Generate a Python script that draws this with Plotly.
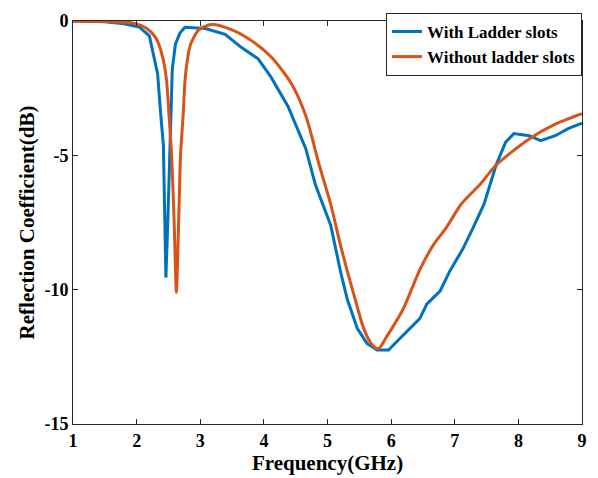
import plotly.graph_objects as go

# With Ladder slots
blue_f = [1.0, 1.5, 1.8, 2.04, 2.2, 2.33, 2.38, 2.42, 2.44, 2.46, 2.49, 2.52, 2.54, 2.56,
          2.61, 2.68, 2.76, 3.08, 3.39, 3.65, 3.91, 4.11, 4.38, 4.53, 4.66, 4.81, 4.92,
          5.05, 5.21, 5.31, 5.47, 5.62, 5.78, 5.96, 6.09, 6.3, 6.45, 6.56, 6.77, 6.92,
          7.13, 7.28, 7.46, 7.65, 7.80, 7.93, 8.17, 8.35, 8.58, 8.79, 8.94, 9.0]
blue_db = [0.0, -0.03, -0.1, -0.22, -0.55, -1.97, -3.5, -4.6, -7.0, -9.55, -7.5, -5.0, -3.2, -1.8,
           -0.86, -0.45, -0.23, -0.28, -0.5, -0.99, -1.41, -2.08, -3.18, -4.0, -4.76, -6.1, -6.8,
           -7.6, -9.38, -10.35, -11.45, -12.0, -12.25, -12.25, -11.93, -11.45, -11.08, -10.54, -10.05, -9.32,
           -8.47, -7.74, -6.82, -5.36, -4.51, -4.19, -4.27, -4.45, -4.27, -4.0, -3.84, -3.8]

# Without ladder slots
or_f = [1.0, 1.5, 1.93, 2.15, 2.30, 2.41, 2.47, 2.51, 2.55, 2.59, 2.625, 2.66, 2.69, 2.73,
        2.77, 2.85, 2.98, 3.18, 3.49, 3.81, 4.12, 4.43, 4.66, 4.87, 5.05, 5.21, 5.42,
        5.57, 5.7, 5.8, 5.93, 6.19, 6.45, 6.66, 6.87, 7.10, 7.41, 7.65, 8.17, 8.58, 9.0]
or_db = [0.0, -0.02, -0.07, -0.26, -0.62, -1.35, -2.2, -3.54, -5.0, -7.5, -10.1, -7.5, -5.0, -3.54,
         -1.96, -0.86, -0.32, -0.13, -0.32, -0.74, -1.35, -2.32, -3.54, -5.36, -6.82, -8.4, -10.23,
         -11.45, -12.05, -12.2, -11.75, -10.72, -9.26, -8.35, -7.68, -6.82, -6.05, -5.36, -4.39, -3.84, -3.45]

x_ticks = [1, 2, 3, 4, 5, 6, 7, 8, 9]
y_ticks = [0, -5, -10, -15]
y_labels = ["0", "-5", "-10", "-15"]

font_family = "Liberation Serif"

fig = go.Figure()
fig.add_trace(go.Scatter(x=blue_f, y=blue_db, mode="lines", name="<b>With Ladder slots</b>",
                         line=dict(color="#0072BD", width=3)))
fig.add_trace(go.Scatter(x=or_f, y=or_db, mode="lines", name="<b>Without ladder slots</b>",
                         line=dict(color="#D95319", width=3, shape="spline", smoothing=0.7)))

fig.update_layout(
    width=598, height=478,
    margin=dict(l=73, r=11, t=13, b=54),
    paper_bgcolor="white", plot_bgcolor="white",
    font=dict(family=font_family, color="black", size=17),
    showlegend=True,
    legend=dict(x=1, y=1.02, xanchor="right", yanchor="top",
                bordercolor="#262626", borderwidth=1, bgcolor="white",
                font=dict(family=font_family, size=17, color="black"),
                tracegroupgap=0),
)
fig.update_xaxes(range=[1, 9], tickvals=x_ticks, ticktext=[f"<b>{v}</b>" for v in x_ticks],
                 showline=True, linecolor="#262626", linewidth=1, mirror="ticks",
                 ticks="inside", ticklen=5, tickcolor="#262626", showgrid=False, zeroline=False,
                 title=dict(text="<b>Frequency(GHz)</b>", font=dict(size=21), standoff=2),
                 tickfont=dict(size=18))
fig.update_yaxes(range=[-15, 0], tickvals=y_ticks, ticktext=[f"<b>{t}</b>" for t in y_labels],
                 showline=True, linecolor="#262626", linewidth=1, mirror="ticks",
                 ticks="inside", ticklen=5, tickcolor="#262626", showgrid=False, zeroline=False,
                 title=dict(text="<b>Reflection Coefficient(dB)</b>", font=dict(size=21), standoff=4),
                 tickfont=dict(size=18))

fig.write_html("out.html")
